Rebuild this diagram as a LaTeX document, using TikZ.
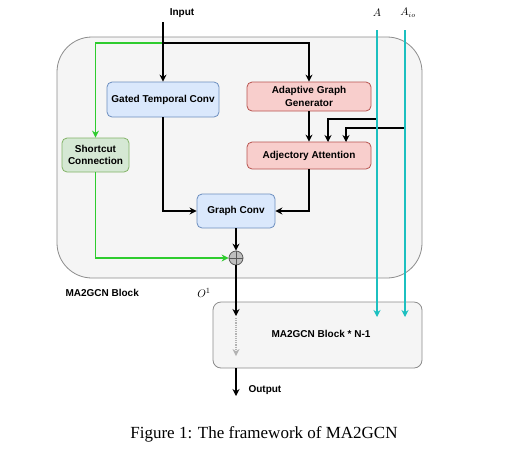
\documentclass[tikz,border=0pt]{standalone}
\usepackage{fontspec}
\setmainfont{Liberation Serif}
\newfontfamily\hel{Liberation Sans}
\usetikzlibrary{arrows.meta,calc}
\definecolor{bluefill}{HTML}{DAE8FC}
\definecolor{bluedraw}{HTML}{6C8EBF}
\definecolor{redfill}{HTML}{F8CECC}
\definecolor{reddraw}{HTML}{B85450}
\definecolor{greenfill}{HTML}{D5E8D4}
\definecolor{greendraw}{HTML}{82B366}
\definecolor{blockfill}{HTML}{F5F5F5}
\definecolor{blockdraw}{HTML}{8C8C8C}
\definecolor{cyanline}{HTML}{1CC0C0}
\definecolor{greenline}{HTML}{2ECC2E}
\begin{document}
\begin{tikzpicture}[x=1pt,y=-1pt,
  lbl/.style={font=\hel\bfseries\fontsize{10}{12.5}\selectfont, align=center, text=black},
  boxbase/.style={lbl, rounded corners=5pt, line width=0.8pt, inner sep=0pt},
  bluebox/.style={boxbase, fill=bluefill, draw=bluedraw},
  redbox/.style={boxbase, fill=redfill, draw=reddraw},
  greenbox/.style={boxbase, fill=greenfill, draw=greendraw},
  arr/.style={line width=1.5pt, -{Stealth[length=7pt,width=7pt]}},
  plain/.style={line width=1.5pt},
  garr/.style={line width=1.5pt, greenline, -{Stealth[length=7pt,width=7pt]}},
  carr/.style={line width=1.5pt, cyanline, -{Stealth[length=7pt,width=7pt]}},
]
\useasboundingbox (0,0) rectangle (506,451);
\fill[white] (0,0) rectangle (506,451);

% outer block
\node[draw=blockdraw, fill=blockfill, line width=0.8pt, rounded corners=35pt,
      minimum width=365pt, minimum height=241pt, inner sep=0pt] (outer) at (239.5,157.5) {};
\node[lbl, anchor=west] (blk) at (62,293) {MA2GCN Block};

% second block
\node[draw=blockdraw, fill=blockfill, line width=0.8pt, rounded corners=8pt,
      minimum width=209pt, minimum height=66pt, inner sep=0pt] (b2) at (317.5,335) {};
\node[lbl] (b2t) at (321,334) {MA2GCN Block * N-1};

% boxes
\node[bluebox, minimum width=112pt, minimum height=35pt] (gtc) at (163,99.5) {Gated Temporal Conv};
\node[redbox, minimum width=124pt, minimum height=29pt] (agg) at (309,96.5) {Adaptive Graph\\Generator};
\node[redbox, minimum width=124pt, minimum height=27pt] (att) at (309,155.5) {Adjectory Attention};
\node[greenbox, minimum width=67pt, minimum height=34pt] (sc) at (95.5,155) {Shortcut\\Connection};
\node[bluebox, minimum width=78pt, minimum height=34pt] (gc) at (236,211) {Graph Conv};
\node[circle, draw=black!65, fill=black!25, line width=0.8pt, minimum size=14pt, inner sep=0pt] (sum) at (236,258) {};
\draw[black!65, line width=0.8pt] (sum.north) -- (sum.south) (sum.west) -- (sum.east);

% labels
\node[lbl] (inl) at (182,13) {Input};
\node (al) at (377,13) {\fontsize{10.5}{12}\selectfont $A$};
\node (ail) at (408,13) {\fontsize{10.5}{12}\selectfont $A_{io}$};
\node (o1) at (204,293) {\fontsize{11}{13}\selectfont $O^1$};
\node[lbl, anchor=west] (outl) at (245,390) {Output};
\node (cap) at (264,434) {\fontsize{17}{20}\selectfont Figure 1: The framework of MA2GCN};

% coordinates
\coordinate (inp) at (163,22);
\coordinate (br) at (163,43);
\coordinate (a1) at (377,119);
\coordinate (t1) at (328,142);
\coordinate (a2) at (405,128);
\coordinate (t2) at (346,142);
\coordinate (atop) at (377,30);
\coordinate (abot) at (377,317);
\coordinate (aitop) at (405,30);
\coordinate (aibot) at (405,317);
\coordinate (o1tip) at (236,316);
\coordinate (dstart) at (236,318);
\coordinate (dend) at (236,356);
\coordinate (outp) at (236,396);

% green shortcut
\draw[garr] (br) -| (sc.north);
\draw[garr] (sc.south) |- (sum.west);

% black connectors
\draw[arr] (inp) -- (gtc.north);
\draw[arr] (br) -| (agg.north);
\draw[arr] (agg.south) -- (att.north);
\draw[arr] (a1) -| (t1);
\draw[arr] (a2) -| (t2);
\draw[arr] (gtc.south) |- (gc.west);
\draw[arr] (att.south) |- (gc.east);
\draw[arr] (gc.south) -- (sum.north);
\draw[arr] (sum.south) -- (o1tip);
\draw[line width=1.2pt, black!30, densely dotted, -{Stealth[length=7pt,width=7pt,line width=0pt]}] (dstart) -- (dend);
\draw[arr] (b2.south -| sum) -- (outp);

% cyan
\draw[carr] (atop) -- (abot);
\draw[carr] (aitop) -- (aibot);
\end{tikzpicture}
\end{document}
